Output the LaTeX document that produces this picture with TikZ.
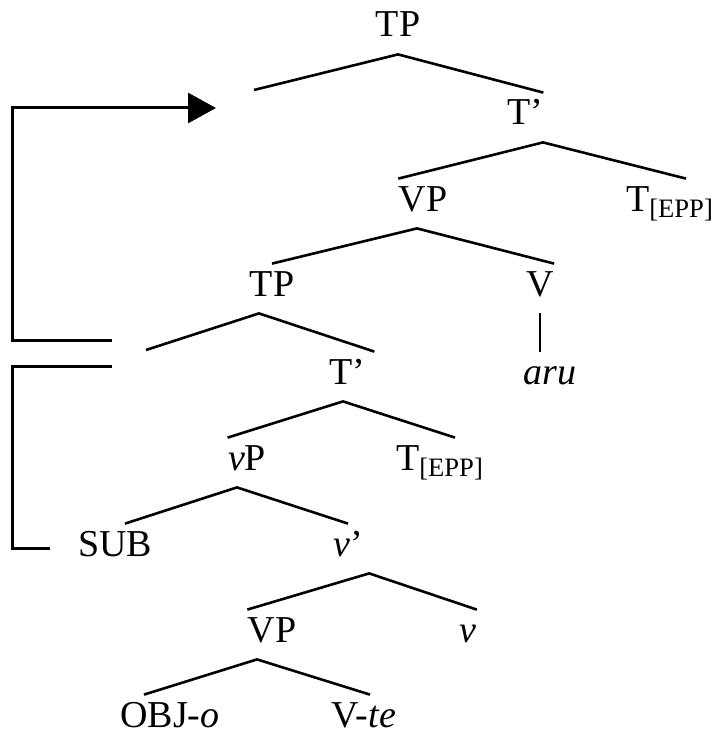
\documentclass[tikz,border=0pt]{standalone}
\usepackage{fontspec}
\setmainfont{Liberation Serif}
\usetikzlibrary{arrows.meta}

\begin{document}
\begin{tikzpicture}[x=0.5pt, y=-0.5pt,
    cat/.style={anchor=base, inner xsep=0pt, inner ysep=3.5pt,
      text height=12.5pt, text depth=5pt, font=\fontsize{19}{23}\selectfont},
    branch/.style={line width=1.3pt},
    bracket/.style={line width=1.5pt}]
  \useasboundingbox (0,0) rectangle (716,733);

  % categories, placed by baseline
  \node[cat] (tp1)   at (398,37)  {TP};
  \node[cat] (tbar1) at (525,125) {T’};
  \node[cat] (vp1)   at (423,211) {VP};
  \node[cat] (tepp1) at (670,211) {T\textsubscript{[EPP]}};
  \node[cat] (tp2)   at (272,296) {TP};
  \node[cat] (v1)    at (540,296) {V};
  \node[cat] (tbar2) at (347,384) {T\char"0027};
  \node[cat] (aru)   at (550,384) {\textit{aru}};
  \node[cat] (vp)    at (247,470) {\textit{v}P};
  \node[cat] (tepp2) at (440,470) {T\textsubscript{[EPP]}};
  \node[cat] (sub)   at (115,556) {SUB};
  \node[cat] (vbar)  at (348,556) {\textit{v}’};
  \node[cat] (vp2)   at (272,642) {VP};
  \node[cat] (vhead) at (468,642) {\textit{v}};
  \node[cat] (obj)   at (170,727) {OBJ-\textit{o}};
  \node[cat] (vte)   at (364,727) {V-\textit{te}};

  % empty specifiers
  \coordinate (spec1) at (254,90);
  \coordinate (spec2) at (146,350);

  % branches
  \draw[branch] (spec1) -- (tp1.south) -- (tbar1.north east);
  \draw[branch] (vp1.north west) -- ([xshift=9pt]tbar1.south) -- ([xshift=8pt]tepp1.north);
  \draw[branch] (tp2.north) -- ([xshift=-3pt]vp1.south) -- (v1.north east);
  \draw[branch] (spec2) -- ([xshift=-6.5pt]tp2.south) -- ([xshift=4.5pt]tbar2.north east);
  \draw[branch] (v1.south) -- (v1.south |- aru.north);
  \draw[branch] (vp.north west) -- ([xshift=-2pt]tbar2.south) -- ([xshift=7.5pt]tepp2.north);
  \draw[branch] ([xshift=5pt]sub.north) -- ([xshift=-5pt]vp.south) -- (vbar.north);
  \draw[branch] (vp2.north west) -- ([xshift=3pt]vbar.south east) -- (vhead.north east);
  \draw[branch] ([xshift=-13pt]obj.north) -- ([xshift=-7.5pt]vp2.south) -- ([xshift=3pt]vte.north);

  % movement brackets
  \coordinate (rail)  at (12,0);
  \coordinate (from1) at (112,340);
  \coordinate (from2) at (112,366);
  \coordinate (land)  at (216,108);
  \draw[bracket, -{Triangle[length=14pt,width=15pt]}]
    (from1) -- (from1 -| rail) -- (land -| rail) -- (land);
  \draw[bracket] (from2) -- (from2 -| rail) |- ([xshift=-14pt]sub.west);
\end{tikzpicture}
\end{document}
